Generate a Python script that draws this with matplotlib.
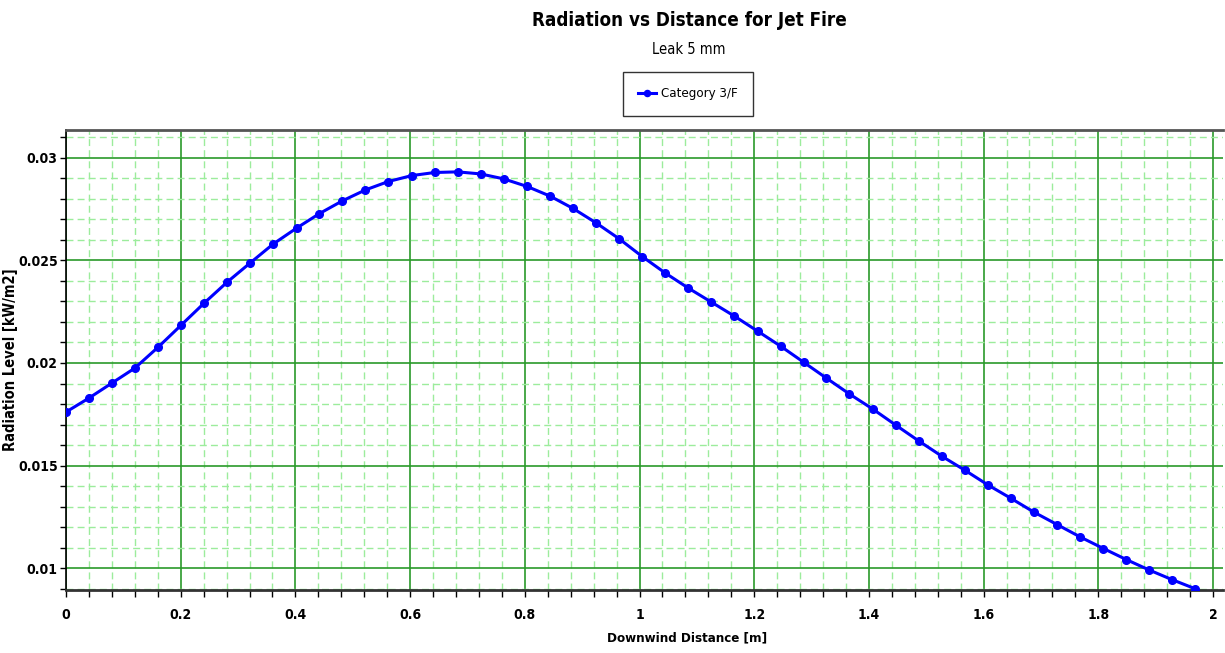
"""Radiation vs distance for a jet fire (leak 5 mm), single weather category."""

import matplotlib

matplotlib.use("Agg")
import matplotlib.pyplot as plt  # noqa: E402
from matplotlib.ticker import MultipleLocator  # noqa: E402

plt.rcParams["font.family"] = ["DejaVu Sans"]
plt.rcParams["font.stretch"] = "condensed"

# Downwind distance [m] and radiation level [kW/m2].
distance = [
    0.000, 0.040, 0.080, 0.120, 0.161, 0.201, 0.241, 0.281, 0.321, 0.361,
    0.402, 0.442, 0.482, 0.522, 0.562, 0.603, 0.643, 0.683, 0.723, 0.763,
    0.804, 0.844, 0.884, 0.924, 0.964, 1.005, 1.045, 1.085, 1.125, 1.165,
    1.206, 1.246, 1.286, 1.326, 1.366, 1.407, 1.447, 1.487, 1.527, 1.567,
    1.608, 1.648, 1.688, 1.728, 1.768, 1.809, 1.849, 1.889, 1.929, 1.969,
]
radiation = [
    0.01761, 0.01829, 0.01902, 0.01975, 0.02078, 0.02185, 0.02292, 0.02394, 0.02487, 0.02579,
    0.02657, 0.02728, 0.02790, 0.02843, 0.02884, 0.02913, 0.02928, 0.02931, 0.02921, 0.02897,
    0.02860, 0.02813, 0.02753, 0.02683, 0.02606, 0.02518, 0.02438, 0.02365, 0.02297, 0.02229,
    0.02155, 0.02082, 0.02004, 0.01926, 0.01849, 0.01775, 0.01697, 0.01620, 0.01546, 0.01478,
    0.01405, 0.01340, 0.01273, 0.01213, 0.01153, 0.01096, 0.01042, 0.00991, 0.00944, 0.00900,
]
series_name = "Category 3/F"

C_LINE = "#0000ff"
C_MAJOR = "#2a9a2a"
C_MINOR = "#9cec9c"

fig = plt.figure(figsize=(12.25, 6.53), dpi=100)
ax = fig.add_axes([66 / 1225, 63 / 653, 1157 / 1225, 460 / 653])

ax.plot(distance, radiation, color=C_LINE, lw=2.2, marker="o", ms=5.5,
        label=series_name, zorder=3)

ax.set_xlim(0, 2.0174)
ax.set_ylim(0.00894, 0.03135)
ax.xaxis.set_minor_locator(MultipleLocator(0.04))
ax.yaxis.set_minor_locator(MultipleLocator(0.001))
ax.set_xticks([0, 0.2, 0.4, 0.6, 0.8, 1.0, 1.2, 1.4, 1.6, 1.8, 2.0])
ax.set_xticklabels(["0", "0.2", "0.4", "0.6", "0.8", "1", "1.2", "1.4", "1.6", "1.8", "2"])
ax.set_yticks([0.01, 0.015, 0.02, 0.025, 0.03])
ax.set_yticklabels(["0.01", "0.015", "0.02", "0.025", "0.03"])

ax.grid(which="minor", color=C_MINOR, ls=(0, (5, 3)), lw=1.0, zorder=0)
ax.grid(which="major", color=C_MAJOR, ls="-", lw=1.2, zorder=1)
ax.set_axisbelow(True)

for lab in ax.get_xticklabels() + ax.get_yticklabels():
    lab.set_fontweight("bold")
    lab.set_fontsize(10)
    lab.set_fontstretch("condensed")
ax.tick_params(axis="x", which="both", length=5, width=1, direction="out", pad=8)
ax.tick_params(axis="y", which="both", length=4, width=1, direction="out", pad=2)

ax.spines["right"].set_visible(False)
ax.spines["top"].set_color("#555555")
ax.spines["top"].set_linewidth(2)
ax.spines["bottom"].set_color("#333333")
ax.spines["bottom"].set_linewidth(2)
ax.spines["left"].set_color("black")
ax.spines["left"].set_linewidth(1.2)

ax.set_ylabel("Radiation Level [kW/m2]", fontsize=10.5, fontweight="bold",
              fontstretch="condensed")
ax.yaxis.set_label_coords((18 - 66) / 1157, 0.5)
fig.text(687 / 1225, 1 - 638 / 653, "Downwind Distance [m]", ha="center", va="center",
         fontsize=9.5, fontweight="bold", fontstretch="condensed")

fig.text(689 / 1225, 1 - 21 / 653, "Radiation vs Distance for Jet Fire", ha="center",
         va="center", fontsize=13.5, fontweight="bold", fontstretch="condensed")
fig.text(689 / 1225, 1 - 50 / 653, "Leak 5 mm", ha="center", va="center", fontsize=10.5,
         fontstretch="condensed")

leg = fig.legend(loc="center", bbox_to_anchor=(688 / 1225, 1 - 94 / 653),
                 fontsize=9.5, frameon=True, fancybox=False, handlelength=1.3,
                 borderpad=1.2, borderaxespad=0, handletextpad=0.4, markerscale=0.8)
leg.get_frame().set_edgecolor("black")
leg.get_frame().set_linewidth(1.0)

fig.savefig("out.png", dpi=100)
